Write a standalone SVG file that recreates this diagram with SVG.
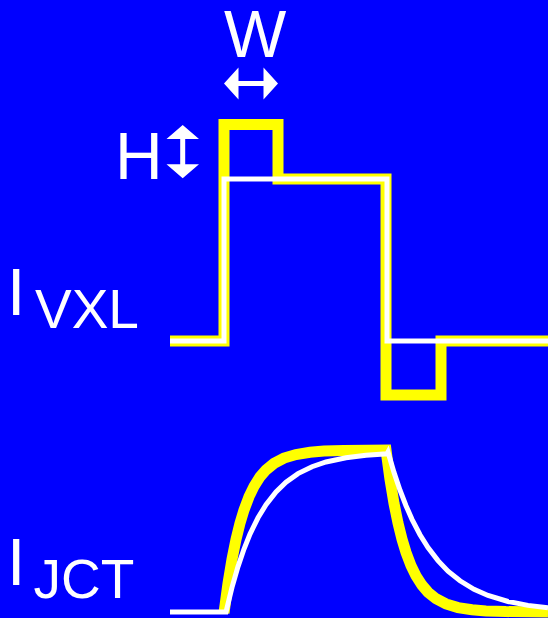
<svg xmlns="http://www.w3.org/2000/svg" width="548" height="618" viewBox="0 0 548 618">
<style>
.lbl{font-family:"Liberation Sans",Arial,sans-serif;fill:#fff}
.big{font-size:66px}
.sub{font-size:55px}
.y{fill:none;stroke:#ff0;stroke-width:11;stroke-linejoin:miter}
.w{fill:none;stroke:#fff;stroke-width:5;stroke-linejoin:miter}
.ar{fill:#fff}
</style>
<rect width="548" height="618" fill="#00f"/>
<g id="label-W">
<text class="lbl big" x="224" y="56.7">W</text>
<polygon class="ar" points="224,83.5 238.5,67.5 238.5,81 263.5,81 263.5,67.5 278,83.5 263.5,99.5 263.5,86 238.5,86 238.5,99.5"/>
</g>
<g id="label-H">
<text class="lbl big" x="115" y="179">H</text>
<polygon class="ar" points="182.7,125 199,139 185.2,139 185.2,164.3 199,164.3 182.7,178.3 166.5,164.3 180.2,164.3 180.2,139 166.5,139"/>
</g>
<g id="label-IVXL">
<text class="lbl big" x="7" y="315">I</text>
<text class="lbl sub" x="35" y="328.3">VXL</text>
</g>
<g id="label-IJCT">
<text class="lbl big" x="7" y="585">I</text>
<text class="lbl sub" x="33.5" y="598">JCT</text>
</g>
<g id="traces">
<path id="vxl-yellow" class="y" d="M170,341 H224 V124.5 H278 V179 H386 V395 H441 V341 H548"/>
<path id="vxl-white" class="w" d="M170,341 H224 V179 H387 V341 H548"/>
<path id="jct-yellow" class="y" d="M224,613 L228,583.4 L232,559.3 L236,539.5 L240,523.2 L244,510 L249,496.7 L254,486.4 L260,476.9 L266,470 L274,463.4 L284,458.1 L296,454.5 L310,452.2 L324,451.1 L344,450.4 L386,450 L390,479.4 L394,503.4 L398,523.1 L402,539.2 L406,552.4 L411,565.6 L416,575.9 L422,585.2 L428,592.2 L436,598.7 L446,603.9 L458,607.6 L472,609.8 L486,610.9 L506,611.6 L548,612"/>
<path id="jct-white" class="w" d="M170,612 L226,612 L232,587.4 L238,566.6 L244,549 L250,534.1 L258,517.8 L266,504.7 L276,491.9 L286,482.2 L298,473.6 L312,466.7 L326,462 L346,457.7 L366,455.3 L387,453.8 L388,452 L394,472.4 L400,490.2 L406,505.7 L412,519.3 L420,534.7 L428,547.5 L438,560.6 L448,571.1 L460,580.8 L474,589.3 L488,595.5 L508,601.5 L528,605.4 L548,607.8"/>
</g>
</svg>
